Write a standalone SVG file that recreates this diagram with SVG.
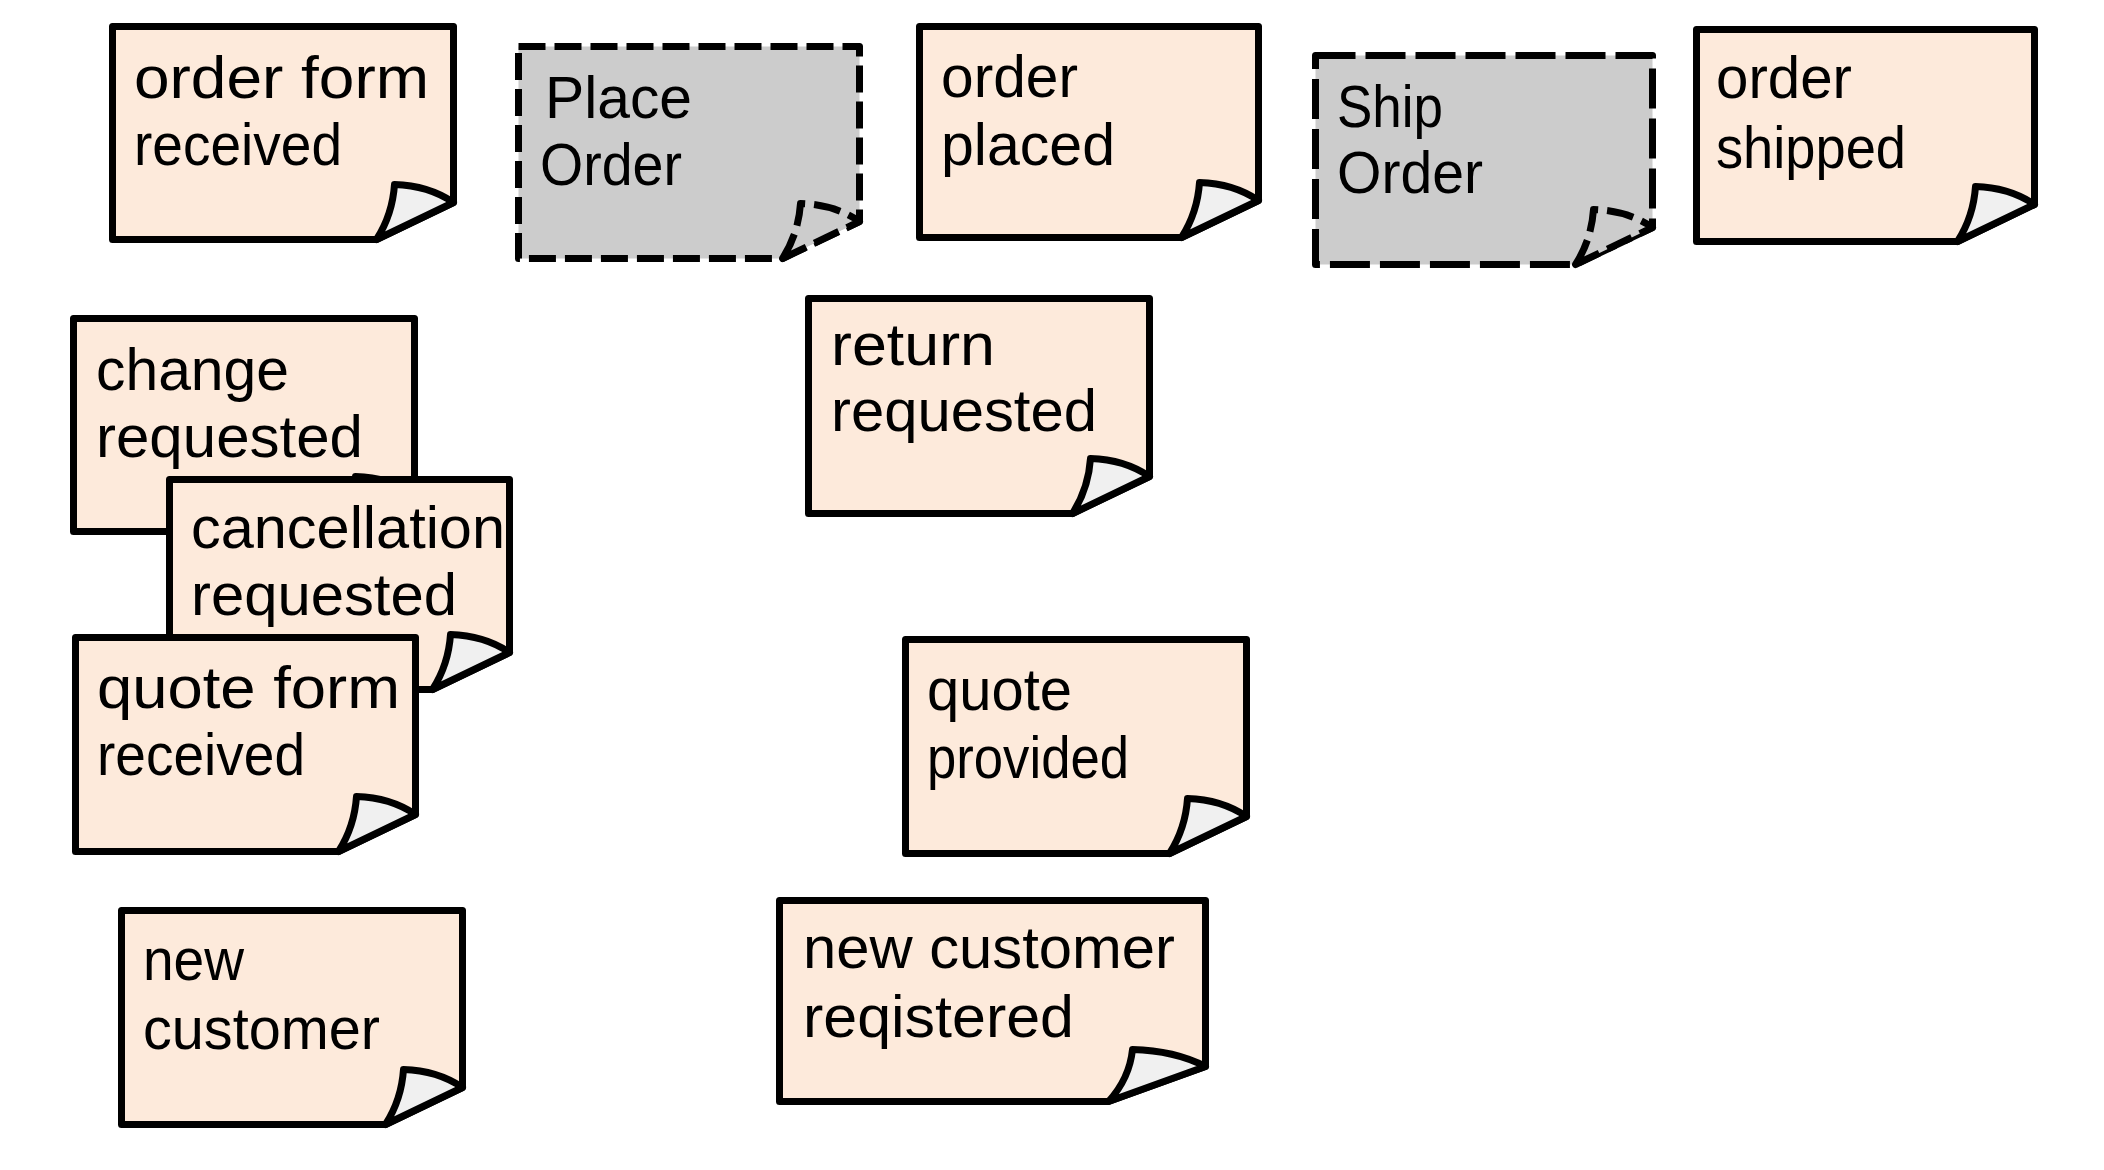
<svg xmlns="http://www.w3.org/2000/svg" xmlns:xlink="http://www.w3.org/1999/xlink" width="2104" height="1170" viewBox="0 0 2104 1170">
<style>
.body{fill:#fdeadb;stroke:#000;stroke-width:7;stroke-linejoin:round}
.flap{fill:#f0f0f0;stroke:#000;stroke-width:7;stroke-linejoin:round}
.cmd{fill:#cccccc;stroke:#000;stroke-width:7;stroke-linejoin:round}
.d1{stroke-dasharray:27 9}
.d2{stroke-dasharray:40 10}
.t{font-family:"Liberation Sans",Arial,sans-serif;font-size:60px;fill:#000}
</style>
<defs>
<path id="fold" d="M-77,0 Q-61,-25 -59,-55 Q-25,-54 0,-37 Z"/>
</defs>
<rect x="0" y="0" width="2104" height="1170" fill="#ffffff"/>
<g id="connectors"></g>

<g id="n1">
<path class="body" d="M112.5,26.5 H453.5 V202.5 L376.5,239.5 H112.5 Z"/>
<use xlink:href="#fold" href="#fold" class="flap" transform="translate(453.5,239.5)"/>
<text class="t" x="134" y="98" textLength="295" lengthAdjust="spacingAndGlyphs">order form</text>
<text class="t" x="134" y="165" textLength="208" lengthAdjust="spacingAndGlyphs">received</text>
</g>

<g id="n2">
<path class="cmd d1" d="M518.5,46.5 H859.5 V221.5 L782.5,258.5 H518.5 Z"/>
<use xlink:href="#fold" href="#fold" class="cmd d1" transform="translate(859.5,258.5)"/>
<text class="t" x="545" y="118" textLength="147" lengthAdjust="spacingAndGlyphs">Place</text>
<text class="t" x="540" y="185" textLength="142" lengthAdjust="spacingAndGlyphs">Order</text>
</g>

<g id="n3">
<path class="body" d="M919.5,26.5 H1258.5 V200.5 L1181.5,237.5 H919.5 Z"/>
<use xlink:href="#fold" href="#fold" class="flap" transform="translate(1258.5,237.5)"/>
<text class="t" x="941" y="97" textLength="137" lengthAdjust="spacingAndGlyphs">order</text>
<text class="t" x="941" y="165" textLength="174" lengthAdjust="spacingAndGlyphs">placed</text>
</g>

<g id="n4">
<path class="cmd d2" d="M1315.5,55.5 H1652.5 V227.5 L1575.5,264.5 H1315.5 Z"/>
<use xlink:href="#fold" href="#fold" class="cmd d1" transform="translate(1652.5,264.5)"/>
<text class="t" x="1337" y="127" textLength="106" lengthAdjust="spacingAndGlyphs">Ship</text>
<text class="t" x="1337" y="193" textLength="146" lengthAdjust="spacingAndGlyphs">Order</text>
</g>

<g id="n5">
<path class="body" d="M1696.5,29.5 H2034.5 V204.5 L1957.5,241.5 H1696.5 Z"/>
<use xlink:href="#fold" href="#fold" class="flap" transform="translate(2034.5,241.5)"/>
<text class="t" x="1716" y="98" textLength="136" lengthAdjust="spacingAndGlyphs">order</text>
<text class="t" x="1716" y="168" textLength="190" lengthAdjust="spacingAndGlyphs">shipped</text>
</g>

<g id="n6">
<path class="body" d="M73.5,318.5 H414.5 V494.5 L337.5,531.5 H73.5 Z"/>
<use xlink:href="#fold" href="#fold" class="flap" transform="translate(414.5,531.5)"/>
<text class="t" x="96" y="390" textLength="193" lengthAdjust="spacingAndGlyphs">change</text>
<text class="t" x="96" y="457" textLength="267" lengthAdjust="spacingAndGlyphs">requested</text>
</g>

<g id="n7">
<path class="body" d="M169.5,479.5 H509.5 V652.5 L432.5,689.5 H169.5 Z"/>
<use xlink:href="#fold" href="#fold" class="flap" transform="translate(509.5,689.5)"/>
<text class="t" x="191" y="548" textLength="314" lengthAdjust="spacingAndGlyphs">cancellation</text>
<text class="t" x="191" y="615" textLength="266" lengthAdjust="spacingAndGlyphs">requested</text>
</g>

<g id="n8">
<path class="body" d="M75.5,637.5 H415.5 V814.5 L338.5,851.5 H75.5 Z"/>
<use xlink:href="#fold" href="#fold" class="flap" transform="translate(415.5,851.5)"/>
<text class="t" x="97" y="708" textLength="303" lengthAdjust="spacingAndGlyphs">quote form</text>
<text class="t" x="97" y="775" textLength="208" lengthAdjust="spacingAndGlyphs">received</text>
</g>

<g id="n9">
<path class="body" d="M121.5,910.5 H462.5 V1087.5 L385.5,1124.5 H121.5 Z"/>
<use xlink:href="#fold" href="#fold" class="flap" transform="translate(462.5,1124.5)"/>
<text class="t" x="143" y="980" textLength="101" lengthAdjust="spacingAndGlyphs">new</text>
<text class="t" x="143" y="1049" textLength="237" lengthAdjust="spacingAndGlyphs">customer</text>
</g>

<g id="n10">
<path class="body" d="M808.5,298.5 H1149.5 V476.5 L1072.5,513.5 H808.5 Z"/>
<use xlink:href="#fold" href="#fold" class="flap" transform="translate(1149.5,513.5)"/>
<text class="t" x="831" y="365" textLength="164" lengthAdjust="spacingAndGlyphs">return</text>
<text class="t" x="831" y="431" textLength="266" lengthAdjust="spacingAndGlyphs">requested</text>
</g>

<g id="n11">
<path class="body" d="M905.5,639.5 H1246.5 V816.5 L1169.5,853.5 H905.5 Z"/>
<use xlink:href="#fold" href="#fold" class="flap" transform="translate(1246.5,853.5)"/>
<text class="t" x="927" y="710" textLength="145" lengthAdjust="spacingAndGlyphs">quote</text>
<text class="t" x="927" y="778" textLength="202" lengthAdjust="spacingAndGlyphs">provided</text>
</g>

<g id="n12">
<path class="body" d="M779.5,900.5 H1205.5 V1066.5 L1108.5,1101.5 H779.5 Z"/>
<path class="flap" d="M1108.5,1101.5 Q1129.5,1078.5 1132.5,1049.5 Q1174.5,1050.5 1205.5,1066.5 Z"/>
<text class="t" x="803" y="968" textLength="372" lengthAdjust="spacingAndGlyphs">new customer</text>
<text class="t" x="803" y="1037" textLength="271" lengthAdjust="spacingAndGlyphs">reqistered</text>
</g>
</svg>
